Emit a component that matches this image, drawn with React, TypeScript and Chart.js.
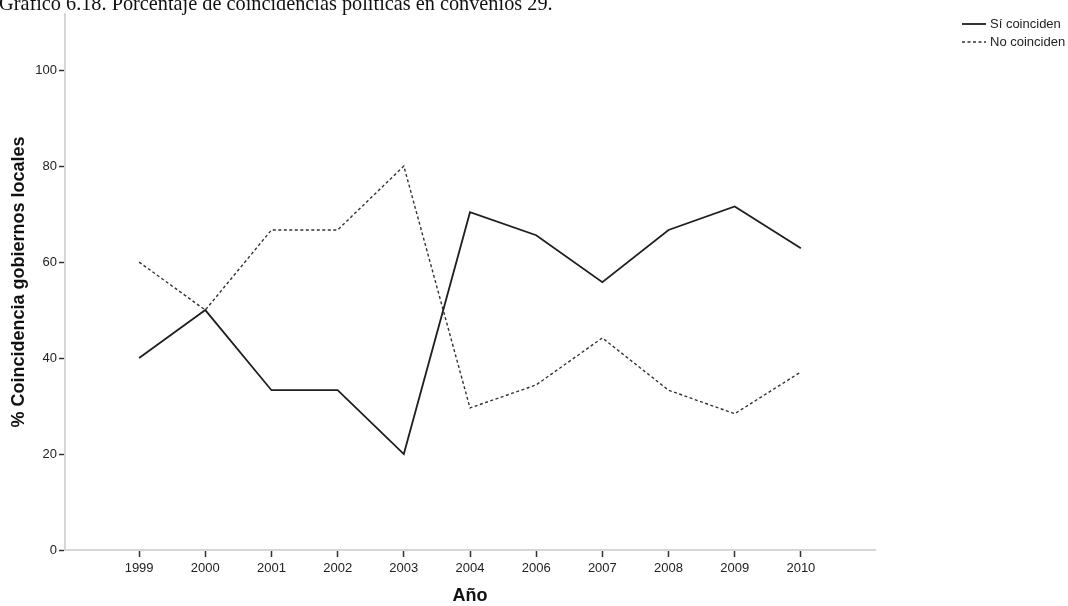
import React, { useEffect, useRef } from "react";
import { Chart, registerables } from "chart.js";

Chart.register(...registerables);

const TITLE = "Gráfico 6.18. Porcentaje de coincidencias políticas en convenios 29.";
const years = ["1999", "2000", "2001", "2002", "2003", "2004", "2006", "2007", "2008", "2009", "2010"];
const siCoinciden = [40, 50, 33.3, 33.3, 20, 70.4, 65.6, 55.8, 66.7, 71.6, 62.9];
const noCoinciden = [60, 50, 66.7, 66.7, 80, 29.6, 34.4, 44.2, 33.3, 28.4, 37.1];
const yTicks = [0, 20, 40, 60, 80, 100];
const seriesNames = ["Sí coinciden", "No coinciden"];

const SANS = "'Liberation Sans', Arial, sans-serif";

const extrasPlugin = {
  id: "extras",
  afterDraw(chart: any) {
    const ctx = chart.ctx;
    ctx.save();
    // cropped caption at the top
    ctx.fillStyle = "#111";
    ctx.font = "20.3px 'Liberation Serif', serif";
    ctx.textBaseline = "alphabetic";
    ctx.textAlign = "left";
    ctx.fillText(TITLE, -1, 10);
    // legend
    chart.data.datasets.forEach((ds: any, i: number) => {
      const y = 24 + i * 18;
      ctx.beginPath();
      ctx.setLineDash(ds.borderDash || []);
      ctx.strokeStyle = ds.borderColor;
      ctx.lineWidth = ds.borderWidth;
      ctx.moveTo(962, y);
      ctx.lineTo(986, y);
      ctx.stroke();
      ctx.setLineDash([]);
      ctx.fillStyle = "#222";
      ctx.font = "13px " + SANS;
      ctx.textBaseline = "middle";
      ctx.fillText(ds.label, 990, y);
    });
    ctx.restore();
  },
};

export default function App() {
  const ref = useRef<HTMLCanvasElement | null>(null);

  useEffect(() => {
    if (!ref.current) return;
    const chart = new Chart(ref.current, {
      type: "line",
      data: {
        datasets: [
          {
            label: seriesNames[0],
            data: siCoinciden.map((v, i) => ({ x: i, y: v })),
            borderColor: "#1e1e1e",
            borderWidth: 1.8,
            pointRadius: 0,
            tension: 0,
            fill: false,
          },
          {
            label: seriesNames[1],
            data: noCoinciden.map((v, i) => ({ x: i, y: v })),
            borderColor: "#333",
            borderWidth: 1.4,
            borderDash: [3, 2.5],
            pointRadius: 0,
            tension: 0,
            fill: false,
          },
        ],
      },
      options: {
        animation: false,
        responsive: false,
        maintainAspectRatio: false,
        layout: { padding: { left: 0, top: 14, right: 193, bottom: 0 } },
        plugins: { legend: { display: false }, tooltip: { enabled: false } },
        scales: {
          x: {
            type: "linear",
            min: -1.12,
            max: 11.12,
            afterBuildTicks: (scale: any) => {
              scale.ticks = years.map((_, i) => ({ value: i }));
            },
            afterFit: (scale: any) => {
              scale.height = 56;
            },
            ticks: {
              autoSkip: false,
              maxRotation: 0,
              padding: 4,
              color: "#222",
              font: { family: SANS, size: 13 },
              callback: (v: any) => years[Math.round(Number(v))] ?? "",
            },
            grid: {
              drawOnChartArea: false,
              drawTicks: true,
              tickLength: 7,
              tickColor: "#333",
              tickWidth: 1.5,
            },
            border: { display: true, color: "#d6d6d6", width: 2 },
            title: {
              display: true,
              text: "Año",
              color: "#111",
              font: { family: SANS, size: 18, weight: "bold", lineHeight: 1 },
              padding: { top: 0, bottom: 0.5 },
            },
          },
          y: {
            min: 0,
            max: 111.7,
            afterBuildTicks: (scale: any) => {
              scale.ticks = yTicks.map((v) => ({ value: v }));
            },
            afterFit: (scale: any) => {
              scale.width = 65;
            },
            ticks: {
              padding: 2,
              color: "#222",
              font: { family: SANS, size: 13 },
            },
            grid: {
              drawOnChartArea: false,
              drawTicks: true,
              tickLength: 6,
              tickColor: "#333",
              tickWidth: 1.5,
            },
            border: { display: true, color: "#d6d6d6", width: 2 },
            title: {
              display: true,
              text: "% Coincidencia gobiernos locales",
              color: "#111",
              font: { family: SANS, size: 18, weight: "bold", lineHeight: 1 },
              padding: { top: 10, bottom: 0 },
            },
          },
        },
      },
      plugins: [extrasPlugin],
    });
    return () => chart.destroy();
  }, []);

  return (
    <div style={{ position: "fixed", left: 0, top: 0, width: 1068, height: 606, background: "#fff" }}>
      <canvas ref={ref} width={1068} height={606} style={{ width: 1068, height: 606, display: "block" }} />
    </div>
  );
}
